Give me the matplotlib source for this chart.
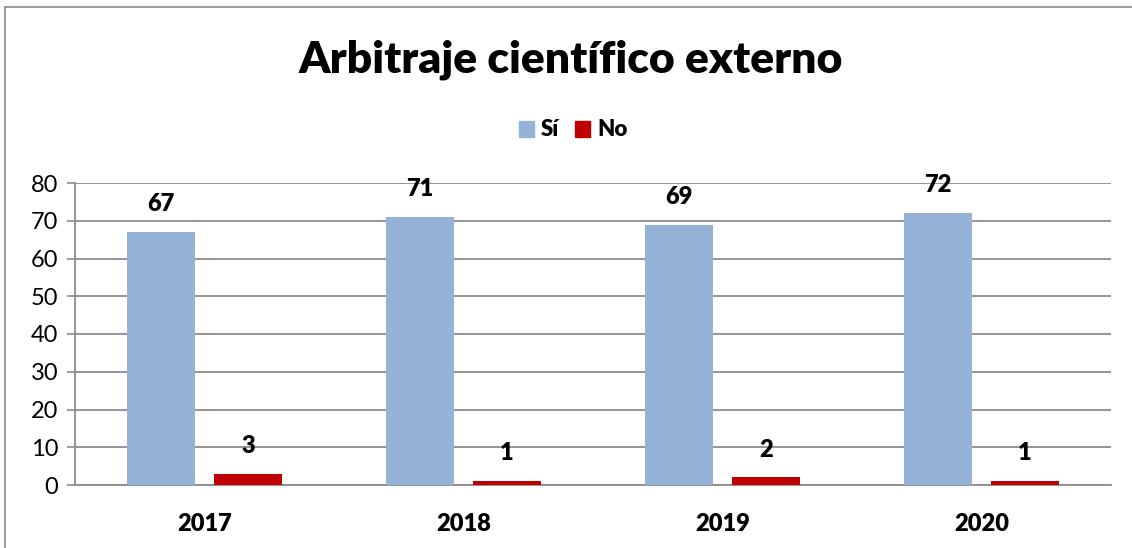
import matplotlib
matplotlib.use("Agg")
import matplotlib.pyplot as plt
from matplotlib.patches import Rectangle
from matplotlib.lines import Line2D
import numpy as np

plt.rcParams['font.family'] = ['Lato', 'DejaVu Sans']

years = ["2017", "2018", "2019", "2020"]
si_values = [67, 71, 69, 72]
no_values = [3, 1, 2, 1]
series_names = ["Sí", "No"]
colors = ["#95B3D7", "#C00000"]
title = "Arbitraje científico externo"
yticks = [0, 10, 20, 30, 40, 50, 60, 70, 80]

W, H = 1132, 548
fig = plt.figure(figsize=(W / 100, H / 100), dpi=100)

# outer frame (left and top visible)
fig.add_artist(Line2D([5 / W, 5 / W], [0, 1 - 7 / H], color="#8c8c8c", lw=1.2))
fig.add_artist(Line2D([5 / W, 1], [1 - 7 / H, 1 - 7 / H], color="#8c8c8c", lw=1.2))

left, right = 75 / W, 1111 / W
bottom, top = 1 - 485 / H, 1 - 183 / H
ax = fig.add_axes([left, bottom, right - left, top - bottom])

x = np.arange(len(years))
w = 0.263
off = 0.168
b1 = ax.bar(x - off, si_values, w, color=colors[0], zorder=3)
b2 = ax.bar(x + off, no_values, w, color=colors[1], zorder=3)

for bars, vals in ((b1, si_values), (b2, no_values)):
    for rect, v in zip(bars, vals):
        ax.annotate(str(v), (rect.get_x() + rect.get_width() / 2, v),
                    xytext=(0, 20), textcoords="offset points",
                    ha="center", va="center", fontsize=17, fontweight="heavy",
                    color="black")

ax.set_xlim(-0.5, len(years) - 0.5)
ax.set_ylim(0, 80)
ax.set_yticks(yticks)
ax.set_yticklabels([str(t) for t in yticks], fontsize=17)
ax.set_xticks(x)
ax.set_xticklabels(years, fontsize=17, fontweight="heavy")
ax.tick_params(axis="x", length=0, pad=20)
ax.tick_params(axis="y", length=6, width=1.2, color="#8c8c8c", pad=6)
ax.yaxis.grid(True, color="#8c8c8c", lw=1.3, zorder=0)
ax.set_axisbelow(True)
for s in ("top", "right"):
    ax.spines[s].set_visible(False)
ax.spines["left"].set_color("#8c8c8c")
ax.spines["left"].set_linewidth(1.3)
ax.spines["bottom"].set_color("#8c8c8c")
ax.spines["bottom"].set_linewidth(1.3)

fig.text(571 / W, 1 - 60 / H, title, ha="center", va="center",
         fontsize=32, fontweight="heavy")

handles = [Rectangle((0, 0), 1, 1, color=c) for c in colors]
leg = fig.legend(handles, series_names, loc="center", bbox_to_anchor=(573 / W, 1 - 130 / H),
                 ncol=2, frameon=False, prop={"size": 16, "weight": "heavy"},
                 handlelength=0.7, handleheight=0.7, handletextpad=0.3, columnspacing=0.7)

fig.savefig("out.png", dpi=100)
